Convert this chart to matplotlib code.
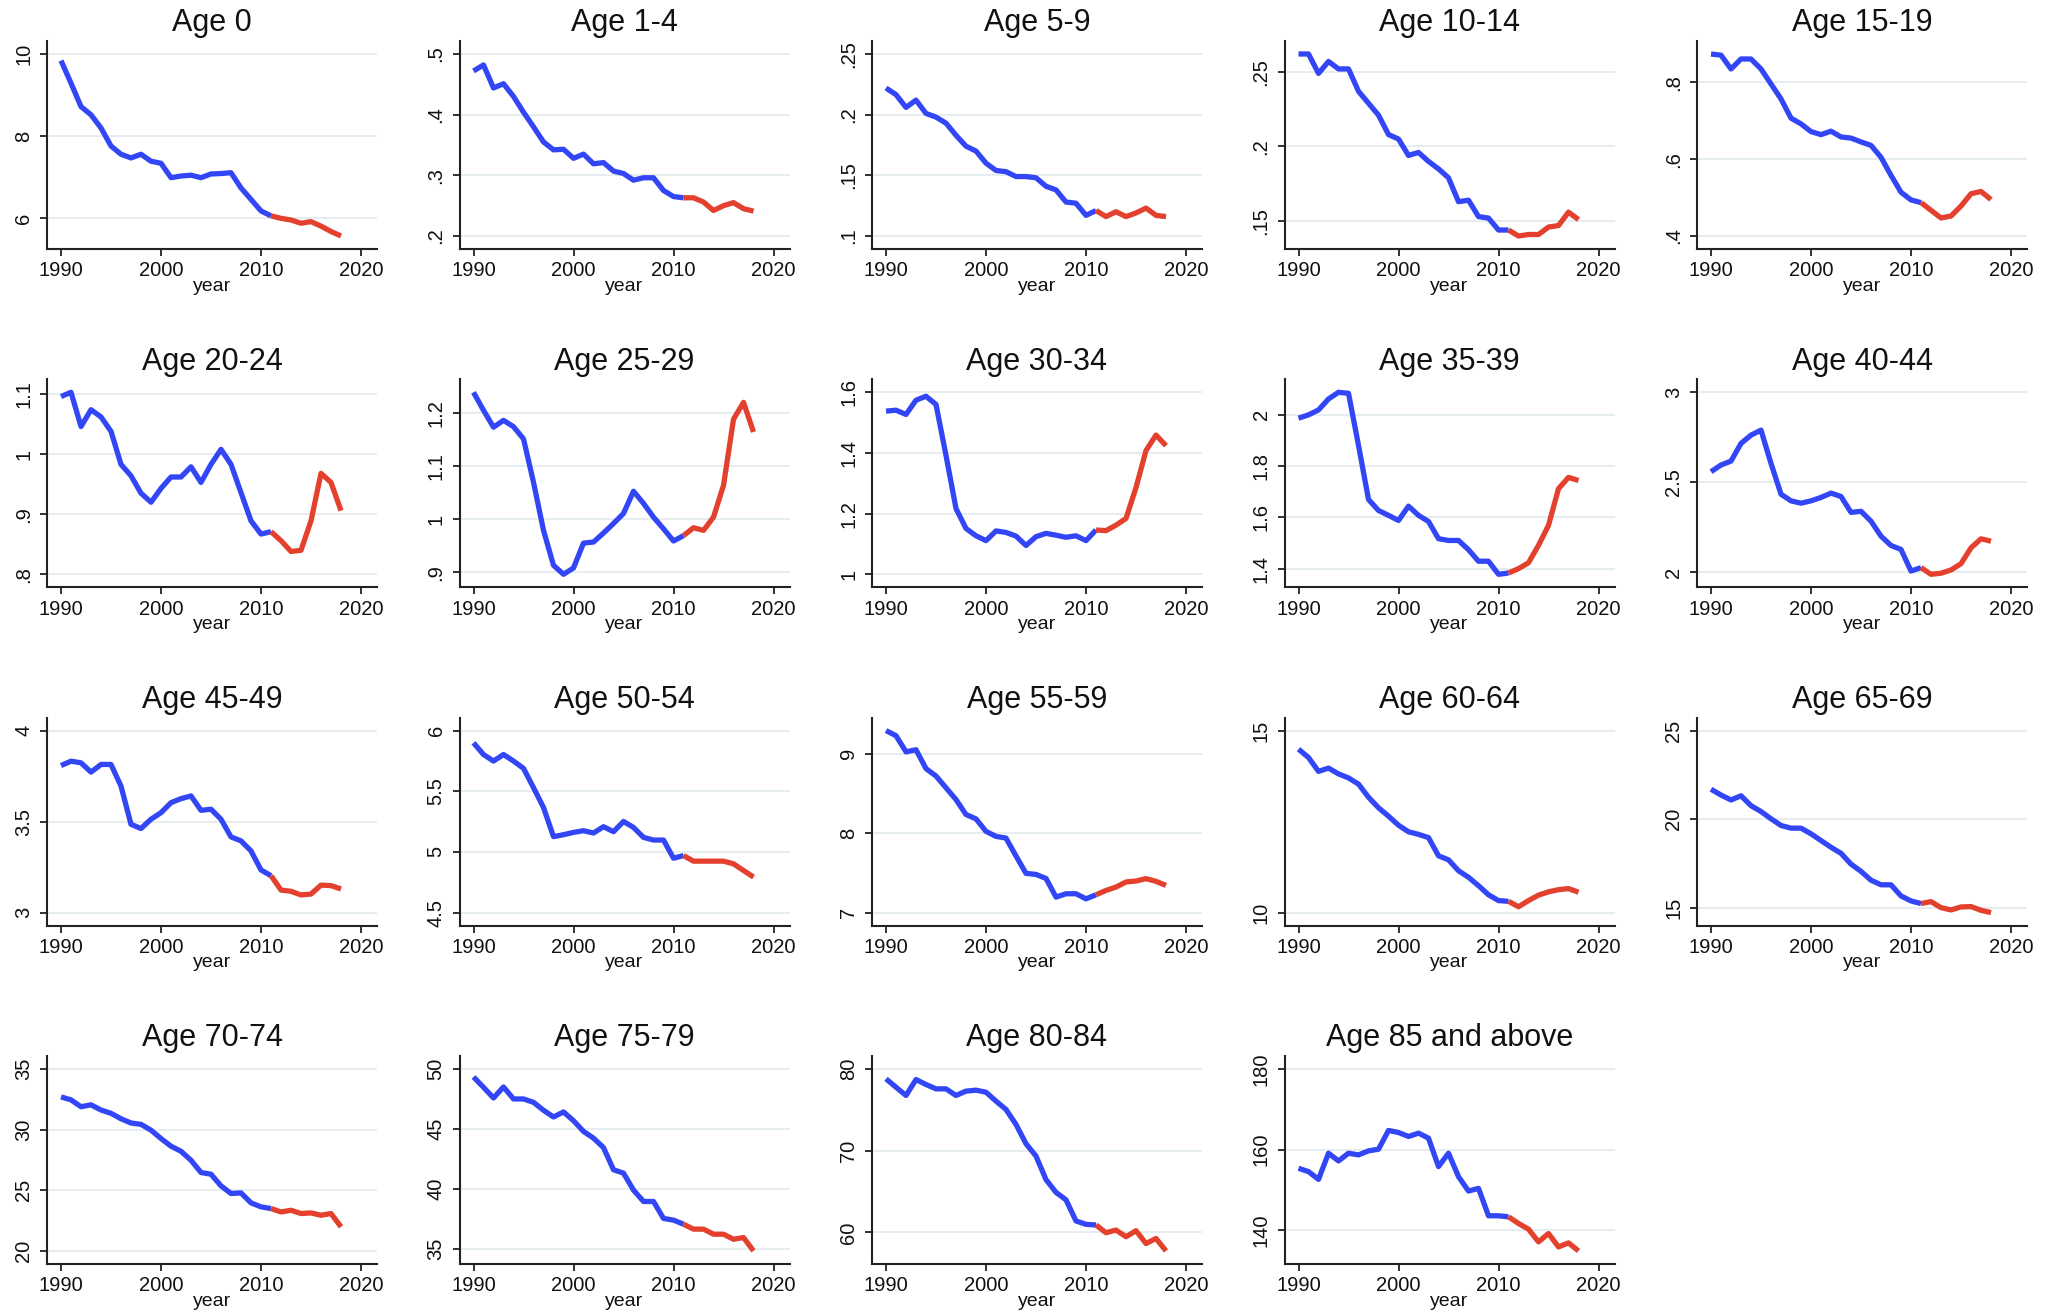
import matplotlib
matplotlib.use("Agg")
import matplotlib.pyplot as plt
import numpy as np

years = list(range(1990, 2019))

titles = ["Age 0", "Age 1-4", "Age 5-9", "Age 10-14", "Age 15-19",
          "Age 20-24", "Age 25-29", "Age 30-34", "Age 35-39", "Age 40-44",
          "Age 45-49", "Age 50-54", "Age 55-59", "Age 60-64", "Age 65-69",
          "Age 70-74", "Age 75-79", "Age 80-84", "Age 85 and above"]

age_0 = [9.84, 9.29, 8.72, 8.52, 8.20, 7.76, 7.56, 7.47, 7.56, 7.39, 7.34, 6.99, 7.03, 7.05, 6.99,
         7.08, 7.09, 7.11, 6.74, 6.46, 6.18, 6.06, 6.00, 5.96, 5.88, 5.92, 5.81, 5.68, 5.57]
age_1_4 = [0.472, 0.482, 0.444, 0.451, 0.430, 0.404, 0.380, 0.355, 0.342, 0.343, 0.328, 0.335, 0.319,
           0.321, 0.307, 0.303, 0.292, 0.296, 0.296, 0.275, 0.265, 0.263, 0.263, 0.256, 0.242, 0.250,
           0.255, 0.245, 0.241]
age_5_9 = [0.222, 0.2165, 0.206, 0.212, 0.201, 0.198, 0.193, 0.183, 0.174, 0.170, 0.160, 0.154, 0.153,
           0.149, 0.149, 0.148, 0.141, 0.138, 0.128, 0.127, 0.117, 0.121, 0.116, 0.120, 0.116, 0.119,
           0.123, 0.117, 0.116]
age_10_14 = [0.262, 0.262, 0.249, 0.257, 0.252, 0.252, 0.237, 0.229, 0.221, 0.208, 0.205, 0.194, 0.196,
             0.190, 0.185, 0.179, 0.163, 0.164, 0.153, 0.152, 0.144, 0.144, 0.140, 0.141, 0.141, 0.146,
             0.147, 0.156, 0.151]
age_15_19 = [0.874, 0.871, 0.835, 0.861, 0.861, 0.835, 0.796, 0.757, 0.707, 0.692, 0.672, 0.664, 0.673,
             0.658, 0.655, 0.645, 0.636, 0.605, 0.558, 0.514, 0.494, 0.487, 0.467, 0.447, 0.452, 0.478,
             0.510, 0.516, 0.495]
age_20_24 = [1.096, 1.103, 1.046, 1.074, 1.062, 1.038, 0.983, 0.964, 0.935, 0.920, 0.943, 0.962, 0.962,
             0.979, 0.953, 0.983, 1.008, 0.983, 0.936, 0.889, 0.867, 0.871, 0.856, 0.838, 0.840, 0.889,
             0.968, 0.953, 0.906]
age_25_29 = [1.240, 1.206, 1.174, 1.187, 1.175, 1.152, 1.070, 0.979, 0.913, 0.896, 0.908, 0.955, 0.957,
             0.974, 0.992, 1.011, 1.053, 1.030, 1.004, 0.982, 0.959, 0.969, 0.984, 0.979, 1.004, 1.064,
             1.189, 1.221, 1.165]
age_30_34 = [1.538, 1.541, 1.527, 1.574, 1.587, 1.560, 1.392, 1.217, 1.151, 1.127, 1.111, 1.143, 1.138,
             1.126, 1.095, 1.124, 1.135, 1.129, 1.122, 1.127, 1.111, 1.146, 1.144, 1.162, 1.184, 1.286,
             1.408, 1.459, 1.424]
age_35_39 = [1.987, 2.000, 2.019, 2.062, 2.088, 2.084, 1.881, 1.670, 1.627, 1.608, 1.588, 1.644, 1.608,
             1.584, 1.517, 1.510, 1.510, 1.474, 1.429, 1.429, 1.378, 1.383, 1.400, 1.423, 1.491, 1.569,
             1.712, 1.756, 1.744]
age_40_44 = [2.559, 2.596, 2.618, 2.716, 2.762, 2.790, 2.605, 2.434, 2.397, 2.384, 2.397, 2.416, 2.440,
             2.421, 2.333, 2.339, 2.284, 2.201, 2.149, 2.127, 2.007, 2.026, 1.989, 1.995, 2.013, 2.048,
             2.136, 2.186, 2.173]
age_45_49 = [3.808, 3.832, 3.823, 3.772, 3.814, 3.814, 3.695, 3.485, 3.462, 3.513, 3.549, 3.604, 3.626,
             3.641, 3.562, 3.568, 3.513, 3.416, 3.394, 3.339, 3.234, 3.203, 3.124, 3.117, 3.097, 3.102,
             3.151, 3.148, 3.130]
age_50_54 = [5.899, 5.803, 5.749, 5.803, 5.749, 5.689, 5.530, 5.366, 5.126, 5.142, 5.161, 5.175, 5.156,
             5.208, 5.167, 5.251, 5.202, 5.120, 5.098, 5.098, 4.948, 4.970, 4.924, 4.924, 4.924, 4.924,
             4.902, 4.847, 4.793]
age_55_59 = [9.288, 9.224, 9.021, 9.047, 8.810, 8.717, 8.569, 8.421, 8.233, 8.178, 8.021, 7.958, 7.937,
             7.712, 7.493, 7.480, 7.429, 7.195, 7.237, 7.237, 7.173, 7.224, 7.279, 7.321, 7.385, 7.397,
             7.427, 7.393, 7.342]
age_60_64 = [14.49, 14.26, 13.88, 13.97, 13.81, 13.70, 13.53, 13.17, 12.88, 12.65, 12.40, 12.22, 12.15,
             12.06, 11.56, 11.45, 11.15, 10.97, 10.74, 10.49, 10.33, 10.31, 10.16, 10.33, 10.48, 10.57,
             10.63, 10.66, 10.56]
age_65_69 = [21.69, 21.36, 21.08, 21.32, 20.76, 20.43, 20.02, 19.64, 19.49, 19.49, 19.17, 18.79, 18.41,
             18.07, 17.46, 17.05, 16.55, 16.29, 16.29, 15.66, 15.38, 15.23, 15.34, 15.00, 14.87, 15.04,
             15.06, 14.85, 14.72]
age_70_74 = [32.69, 32.45, 31.88, 32.04, 31.61, 31.34, 30.89, 30.54, 30.43, 29.95, 29.26, 28.63, 28.21,
             27.47, 26.46, 26.32, 25.36, 24.73, 24.78, 23.96, 23.63, 23.49, 23.21, 23.35, 23.08, 23.13,
             22.94, 23.08, 21.98]
age_75_79 = [49.33, 48.47, 47.58, 48.50, 47.50, 47.50, 47.22, 46.56, 46.00, 46.42, 45.69, 44.80, 44.24,
             43.45, 41.61, 41.33, 39.92, 38.97, 38.97, 37.56, 37.42, 37.08, 36.67, 36.67, 36.25, 36.25,
             35.83, 35.97, 34.86]
age_80_84 = [78.78, 77.76, 76.75, 78.70, 78.09, 77.56, 77.56, 76.75, 77.28, 77.40, 77.15, 76.06, 75.04,
             73.21, 70.85, 69.34, 66.46, 64.90, 63.99, 61.40, 60.99, 60.91, 59.96, 60.29, 59.47, 60.21,
             58.64, 59.26, 57.74]
age_85_up = [155.35, 154.52, 152.61, 159.09, 157.18, 159.09, 158.67, 159.67, 160.08, 164.73, 164.23,
             163.24, 164.07, 162.82, 155.77, 159.09, 153.28, 149.71, 150.37, 143.57, 143.57, 143.32,
             141.66, 140.25, 137.10, 139.17, 135.85, 136.85, 134.86]

series = [age_0, age_1_4, age_5_9, age_10_14, age_15_19, age_20_24, age_25_29, age_30_34,
          age_35_39, age_40_44, age_45_49, age_50_54, age_55_59, age_60_64, age_65_69,
          age_70_74, age_75_79, age_80_84, age_85_up]

yticks = [[6, 8, 10], [.2, .3, .4, .5], [.1, .15, .2, .25], [.15, .2, .25], [.4, .6, .8],
          [.8, .9, 1, 1.1], [.9, 1, 1.1, 1.2], [1, 1.2, 1.4, 1.6], [1.4, 1.6, 1.8, 2], [2, 2.5, 3],
          [3, 3.5, 4], [4.5, 5, 5.5, 6], [7, 8, 9], [10, 15], [15, 20, 25],
          [20, 25, 30, 35], [35, 40, 45, 50], [60, 70, 80], [140, 160, 180]]
ytick_labels = [["6", "8", "10"], [".2", ".3", ".4", ".5"], [".1", ".15", ".2", ".25"],
                [".15", ".2", ".25"], [".4", ".6", ".8"], [".8", ".9", "1", "1.1"],
                [".9", "1", "1.1", "1.2"], ["1", "1.2", "1.4", "1.6"], ["1.4", "1.6", "1.8", "2"],
                ["2", "2.5", "3"], ["3", "3.5", "4"], ["4.5", "5", "5.5", "6"], ["7", "8", "9"],
                ["10", "15"], ["15", "20", "25"], ["20", "25", "30", "35"], ["35", "40", "45", "50"],
                ["60", "70", "80"], ["140", "160", "180"]]
xticks = [1990, 2000, 2010, 2020]
split_year = 2011

BLUE = "#3346F5"
RED = "#E4402E"
GRID = "#E6EDF1"

plt.rcParams["font.family"] = ["Liberation Sans", "DejaVu Sans"]

W, H = 2051, 1311
fig = plt.figure(figsize=(W / 100, H / 100), dpi=100)
fig.patch.set_facecolor("white")

ax_w, ax_h = 330, 208
for i, (title, vals) in enumerate(zip(titles, series)):
    r, c = divmod(i, 5)
    left = 47 + 412.5 * c
    top = 41 + 338.3 * r
    ax = fig.add_axes([left / W, 1 - (top + ax_h) / H, ax_w / W, ax_h / H])
    yrs = np.array(years)
    v = np.array(vals)
    k = years.index(split_year)
    ax.plot(yrs[:k + 1], v[:k + 1], color=BLUE, lw=3.8, solid_capstyle="butt",
            solid_joinstyle="round", zorder=3)
    ax.plot(yrs[k:], v[k:], color=RED, lw=3.8, solid_capstyle="butt",
            solid_joinstyle="round", zorder=3)
    lo = min(v.min(), min(yticks[i]))
    hi = max(v.max(), max(yticks[i]))
    pad = (hi - lo) * 13 / 182
    ax.set_ylim(lo - pad, hi + pad)
    ax.set_xlim(1988.6, 2021.6)
    ax.set_yticks(yticks[i])
    ax.set_yticklabels(ytick_labels[i], rotation=90, va="center")
    ax.set_xticks(xticks)
    ax.set_xticklabels([str(t) for t in xticks])
    ax.grid(axis="y", color=GRID, lw=1.4, zorder=0)
    ax.set_axisbelow(True)
    for s in ["top", "right"]:
        ax.spines[s].set_visible(False)
    for s in ["left", "bottom"]:
        ax.spines[s].set_linewidth(1.5)
        ax.spines[s].set_color("#222222")
    ax.tick_params(axis="both", length=5, width=1.3, color="#222222", labelsize=14.5,
                   labelcolor="#111111")
    ax.tick_params(axis="y", pad=5)
    ax.tick_params(axis="x", pad=4)
    ax.set_xlabel("year", fontsize=14, labelpad=-2, color="#111111")
    ax.set_title(title, fontsize=22, pad=7, color="#111111")

fig.savefig("out.png", dpi=100, facecolor="white")
